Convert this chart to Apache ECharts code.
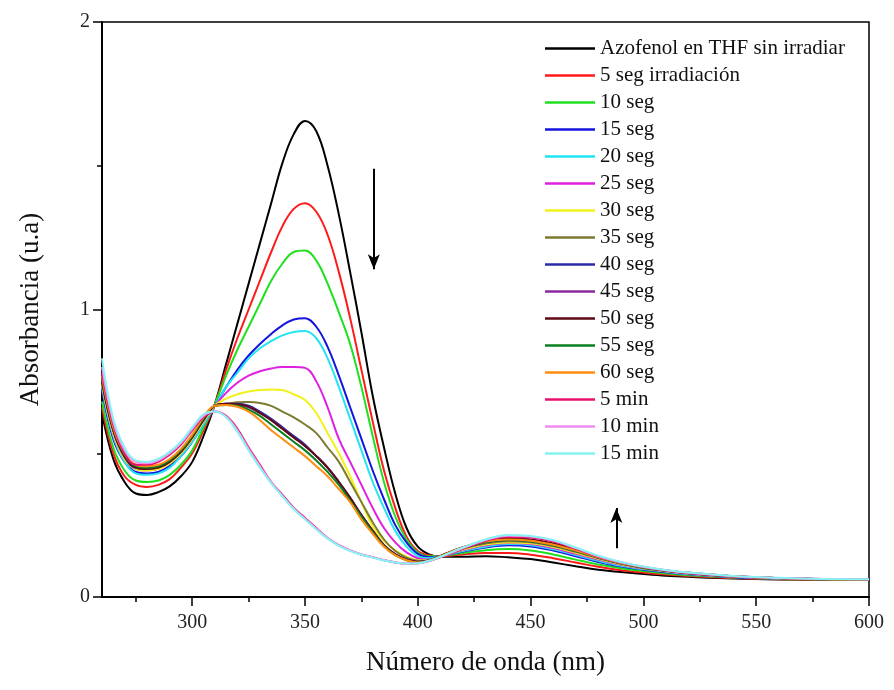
<!DOCTYPE html>
<html><head><meta charset="utf-8">
<script src="https://cdn.jsdelivr.net/npm/echarts@6/dist/echarts.min.js"></script>
<style>html,body{margin:0;padding:0;background:#fff}#c{width:894px;height:690px}</style>
</head><body><div id="c"></div>
<script>
const wavelength = [260,265,270,275,280,285,290,295,300,305,310,315,320,325,330,335,340,345,350,355,360,365,370,375,380,385,390,395,400,405,410,420,430,440,450,460,470,480,490,500,510,520,540,560,580,600];

const names = ['Azofenol en THF sin irradiar','5 seg irradiación','10 seg','15 seg','20 seg','25 seg','30 seg','35 seg','40 seg','45 seg','50 seg','55 seg','60 seg','5 min','10 min','15 min'];
const colors = ['#000000','#ff1a1a','#1ee01e','#1414e0','#22e4f2','#e020e0','#f2f21a','#7d7a32','#2a2aa8','#8a2a9e','#5e0a14','#0a7f1e','#ff8c10','#e8106c','#f08cf0','#86f2f2'];

const s0 = [0.64,0.48,0.40,0.36,0.355,0.365,0.385,0.42,0.47,0.56,
 0.67,0.81,0.95,1.09,1.23,1.37,1.51,1.61,1.656,1.62,
 1.50,1.33,1.13,0.92,0.70,0.52,0.36,0.24,0.175,0.148,
 0.14,0.14,0.142,0.138,0.132,0.12,0.107,0.095,0.087,0.08,
 0.074,0.07,0.064,0.061,0.06,0.06];
const s1 = [0.66,0.50,0.42,0.39,0.383,0.39,0.41,0.45,0.50,0.58,
 0.67,0.79,0.90,1.00,1.10,1.20,1.29,1.35,1.37,1.34,
 1.26,1.13,0.97,0.79,0.61,0.44,0.31,0.21,0.16,0.145,
 0.142,0.148,0.153,0.153,0.147,0.135,0.12,0.105,0.093,0.085,
 0.078,0.073,0.066,0.062,0.061,0.06];
const s2 = [0.68,0.52,0.44,0.405,0.40,0.405,0.425,0.46,0.51,0.59,
 0.67,0.77,0.86,0.94,1.02,1.10,1.16,1.20,1.205,1.17,
 1.09,0.99,0.88,0.73,0.56,0.40,0.28,0.20,0.155,0.142,
 0.143,0.153,0.163,0.167,0.162,0.148,0.13,0.113,0.10,0.09,
 0.082,0.076,0.068,0.063,0.061,0.06];
const s3 = [0.72,0.55,0.47,0.435,0.43,0.435,0.455,0.49,0.54,0.60,
 0.665,0.73,0.79,0.84,0.88,0.915,0.945,0.965,0.97,0.94,
 0.87,0.77,0.66,0.55,0.44,0.34,0.25,0.19,0.15,0.138,
 0.142,0.158,0.172,0.18,0.176,0.162,0.142,0.122,0.106,0.095,
 0.086,0.079,0.069,0.064,0.062,0.061];
const s4 = [0.73,0.56,0.47,0.43,0.425,0.43,0.45,0.49,0.54,0.60,
 0.665,0.73,0.78,0.83,0.865,0.89,0.91,0.922,0.925,0.90,
 0.83,0.73,0.62,0.51,0.40,0.31,0.23,0.175,0.142,0.135,
 0.142,0.16,0.175,0.184,0.18,0.166,0.146,0.126,0.109,0.097,
 0.088,0.08,0.07,0.065,0.062,0.061];
const s5 = [0.74,0.57,0.48,0.445,0.44,0.445,0.465,0.50,0.55,0.61,
 0.665,0.71,0.745,0.77,0.785,0.795,0.80,0.80,0.797,0.75,
 0.66,0.55,0.47,0.39,0.31,0.24,0.19,0.155,0.135,0.13,
 0.14,0.163,0.18,0.188,0.184,0.17,0.15,0.13,0.112,0.099,
 0.089,0.081,0.07,0.065,0.062,0.061];
const s6 = [0.74,0.57,0.48,0.445,0.44,0.445,0.465,0.50,0.55,0.61,
 0.665,0.69,0.705,0.715,0.72,0.722,0.72,0.705,0.685,0.64,
 0.57,0.50,0.42,0.33,0.245,0.195,0.162,0.14,0.128,0.128,
 0.14,0.165,0.183,0.19,0.187,0.174,0.154,0.133,0.114,0.10,
 0.09,0.082,0.071,0.065,0.062,0.061];
const s7 = [0.75,0.58,0.485,0.45,0.445,0.45,0.47,0.505,0.555,0.615,
 0.665,0.672,0.677,0.678,0.675,0.665,0.645,0.625,0.60,0.57,
 0.52,0.47,0.40,0.33,0.26,0.20,0.16,0.137,0.126,0.128,
 0.142,0.168,0.186,0.194,0.19,0.177,0.157,0.135,0.116,0.101,
 0.091,0.083,0.071,0.066,0.062,0.061];
const s8 = [0.75,0.58,0.49,0.45,0.45,0.455,0.475,0.51,0.56,0.62,
 0.665,0.672,0.672,0.665,0.645,0.62,0.59,0.56,0.53,0.49,
 0.45,0.40,0.345,0.285,0.23,0.18,0.148,0.13,0.122,0.127,
 0.142,0.17,0.19,0.198,0.194,0.18,0.16,0.137,0.117,0.102,
 0.091,0.083,0.072,0.066,0.062,0.061];
const s9 = [0.76,0.58,0.49,0.455,0.45,0.455,0.475,0.51,0.56,0.62,
 0.665,0.67,0.668,0.66,0.64,0.615,0.585,0.555,0.525,0.49,
 0.45,0.40,0.345,0.285,0.23,0.18,0.148,0.13,0.122,0.127,
 0.143,0.172,0.193,0.202,0.198,0.184,0.163,0.139,0.118,0.103,
 0.092,0.084,0.072,0.066,0.062,0.061];
const s10 = [0.75,0.58,0.49,0.45,0.445,0.45,0.47,0.505,0.555,0.615,
 0.665,0.672,0.67,0.662,0.64,0.615,0.585,0.555,0.525,0.49,
 0.45,0.40,0.345,0.285,0.23,0.18,0.148,0.13,0.122,0.127,
 0.143,0.173,0.195,0.205,0.2,0.186,0.165,0.14,0.119,0.104,
 0.092,0.084,0.072,0.066,0.062,0.061];
const s11 = [0.76,0.59,0.495,0.455,0.45,0.455,0.475,0.51,0.56,0.62,
 0.665,0.668,0.665,0.652,0.63,0.60,0.57,0.54,0.51,0.475,
 0.435,0.39,0.335,0.28,0.225,0.177,0.146,0.128,0.12,0.126,
 0.142,0.17,0.19,0.198,0.194,0.18,0.16,0.137,0.117,0.102,
 0.091,0.083,0.072,0.066,0.062,0.061];
const s12 = [0.77,0.59,0.50,0.46,0.455,0.46,0.48,0.515,0.565,0.625,
 0.665,0.668,0.662,0.645,0.615,0.58,0.55,0.52,0.49,0.455,
 0.42,0.375,0.33,0.27,0.22,0.175,0.145,0.128,0.12,0.126,
 0.142,0.172,0.193,0.2,0.196,0.182,0.162,0.138,0.118,0.103,
 0.092,0.084,0.072,0.066,0.062,0.061];
const s13 = [0.78,0.60,0.50,0.46,0.46,0.47,0.495,0.53,0.58,0.625,
 0.645,0.63,0.585,0.52,0.46,0.40,0.355,0.31,0.275,0.24,
 0.205,0.18,0.162,0.148,0.138,0.128,0.12,0.116,0.117,0.125,
 0.138,0.168,0.195,0.21,0.207,0.193,0.168,0.14,0.12,0.104,
 0.092,0.083,0.072,0.066,0.063,0.062];
const s14 = [0.80,0.61,0.51,0.47,0.465,0.475,0.50,0.535,0.585,0.63,
 0.645,0.628,0.58,0.515,0.455,0.40,0.352,0.308,0.272,0.238,
 0.205,0.18,0.162,0.148,0.138,0.128,0.12,0.116,0.117,0.125,
 0.139,0.17,0.198,0.213,0.21,0.196,0.17,0.142,0.121,0.105,
 0.093,0.084,0.072,0.066,0.063,0.062];
const s15 = [0.83,0.62,0.52,0.475,0.47,0.48,0.505,0.54,0.59,0.635,
 0.645,0.625,0.575,0.51,0.45,0.395,0.35,0.305,0.27,0.235,
 0.203,0.178,0.16,0.147,0.137,0.127,0.12,0.116,0.117,0.126,
 0.14,0.172,0.2,0.216,0.212,0.198,0.172,0.144,0.122,0.106,
 0.094,0.085,0.073,0.067,0.063,0.062];

const allSeries = [s0,s1,s2,s3,s4,s5,s6,s7,s8,s9,s10,s11,s12,s13,s14,s15];

const xMajorTicks = [300,350,400,450,500,550,600];
const xMinorTicks = [275,325,375,425,475,525,575];
const arrowDown = {x: 380.5, from: 1.49, to: 1.14};
const arrowUp = {x: 488, from: 0.17, to: 0.31};

const FONT = 'Liberation Serif';
const chart = echarts.init(document.getElementById('c'), null, {renderer:'canvas'});

const series = allSeries.map((vals, k) => ({
  name: names[k],
  type: 'line',
  smooth: 0.4,
  showSymbol: false,
  symbol: 'none',
  xAxisIndex: 0,
  data: wavelength.map((x, i) => [x, vals[i]]),
  lineStyle: {color: colors[k], width: 2},
  itemStyle: {color: colors[k]},
  z: 2
}));
series[0].markLine = {
  silent: true,
  symbol: ['none','arrow'],
  symbolSize: [9, 15],
  label: {show: false},
  lineStyle: {color: '#000', width: 2, type: 'solid'},
  data: [
    [{coord: [arrowDown.x, arrowDown.from]}, {coord: [arrowDown.x, arrowDown.to]}],
    [{coord: [arrowUp.x, arrowUp.from]}, {coord: [arrowUp.x, arrowUp.to]}]
  ]
};

chart.setOption({
  animation: false,
  backgroundColor: '#fff',
  grid: {left: 102, right: 25, top: 22, bottom: 93, show: true, borderColor: '#000', borderWidth: 1.5, containLabel: false},
  legend: {
    orient: 'vertical', left: 545, top: 38,
    icon: 'rect', itemWidth: 50, itemHeight: 2.5, itemGap: 6,
    padding: 0,
    textStyle: {fontFamily: FONT, fontSize: 21, color: '#111', lineHeight: 20},
    data: names
  },
  xAxis: [{
    type: 'value', min: 260, max: 600,
    name: 'Número de onda (nm)', nameLocation: 'middle', nameGap: 52,
    nameTextStyle: {fontFamily: FONT, fontSize: 27, color: '#111'},
    axisLine: {show: true, lineStyle: {color: '#000', width: 2}},
    axisTick: {show: true, inside: false, length: 9, lineStyle: {color: '#000', width: 1.5}, customValues: xMajorTicks},
    axisLabel: {show: true, margin: 16, fontFamily: FONT, fontSize: 20, color: '#222', customValues: xMajorTicks},
    splitLine: {show: false}
  }, {
    type: 'value', min: 260, max: 600, position: 'bottom',
    axisLine: {show: false},
    axisTick: {show: true, inside: false, length: 5, lineStyle: {color: '#000', width: 1.5}, customValues: xMinorTicks},
    axisLabel: {show: false},
    splitLine: {show: false}
  }],
  yAxis: {
    type: 'value', min: 0, max: 2, interval: 1,
    name: 'Absorbancia (u.a)', nameLocation: 'middle', nameGap: 58,
    nameTextStyle: {fontFamily: FONT, fontSize: 27, color: '#111'},
    axisLine: {show: true, lineStyle: {color: '#000', width: 2}},
    axisTick: {show: true, inside: false, length: 9, lineStyle: {color: '#000', width: 1.5}},
    minorTick: {show: true, splitNumber: 2, length: 5, lineStyle: {color: '#000', width: 1.5}},
    axisLabel: {margin: 12, fontFamily: FONT, fontSize: 20, color: '#222'},
    splitLine: {show: false}
  },
  series: series
});
</script>
</body></html>
